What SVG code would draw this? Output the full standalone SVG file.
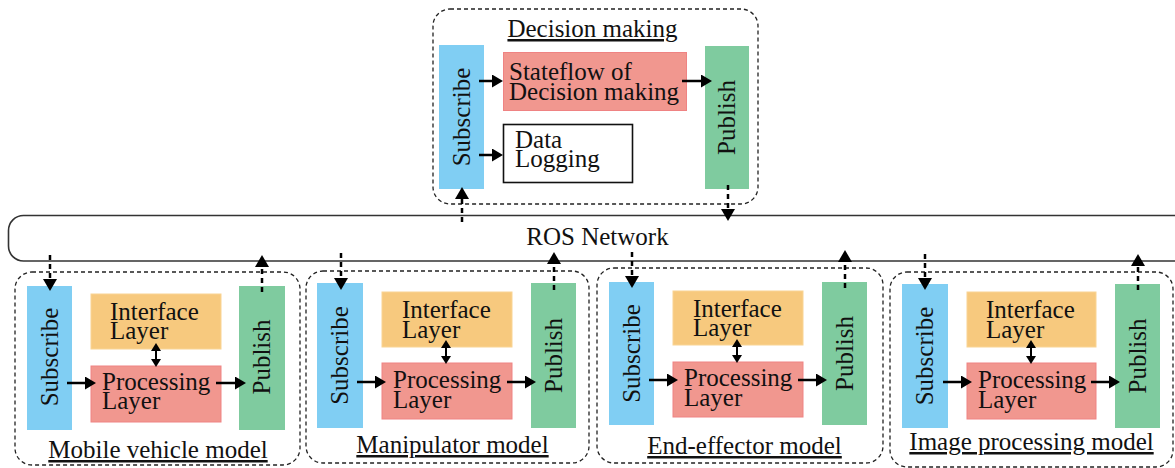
<svg xmlns="http://www.w3.org/2000/svg" width="1175" height="468" viewBox="0 0 1175 468">
  <style>
    text { font-family: "Times New Roman", "Liberation Serif", Tinos, "DejaVu Serif", serif; font-size: 25px; fill: #111; }
    .title { text-anchor: middle; text-decoration: underline; }
    .mid { text-anchor: middle; }
    .frame { fill: none; stroke: #222; stroke-width: 1.3; stroke-dasharray: 4 3; }
    .sub { fill: #80CEF3; }
    .pub { fill: #7FCB9F; }
    .iface { fill: #F7C97E; stroke: #F9D494; stroke-width: 1; }
    .proc { fill: #F1978F; stroke: #EF8383; stroke-width: 1; }
    .plain { fill: #fff; stroke: #111; stroke-width: 1.6; }
    .net { fill: #fff; stroke: #333; stroke-width: 1.6; }
    .flow { fill: none; stroke: #000; stroke-width: 2.5; marker-end: url(#head); }
    .link { fill: none; stroke: #000; stroke-width: 2; marker-start: url(#small); marker-end: url(#small); }
    .msg { fill: none; stroke: #000; stroke-width: 2.5; stroke-dasharray: 5 4; marker-end: url(#dhead); }
  </style>
  <defs>
    <marker id="head" markerUnits="userSpaceOnUse" markerWidth="12" markerHeight="13" refX="2" refY="6.5" orient="auto">
      <path d="M0,0 L11,6.5 L0,13 z" fill="#000"/>
    </marker>
    <marker id="dhead" markerUnits="userSpaceOnUse" markerWidth="13" markerHeight="14" refX="2" refY="7" orient="auto">
      <path d="M0,0 L12,7 L0,14 z" fill="#000"/>
    </marker>
    <marker id="small" markerUnits="userSpaceOnUse" markerWidth="9" markerHeight="10" refX="2" refY="5" orient="auto-start-reverse">
      <path d="M0,0 L8,5 L0,10 z" fill="#000"/>
    </marker>
  </defs>

  <!-- shared network bus -->
  <g id="ros-network">
    <rect class="net" x="8.5" y="215.5" width="1180" height="45.5" rx="15"/>
    <text class="mid" x="597.5" y="245">ROS Network</text>
  </g>

  <!-- decision making node -->
  <g id="decision-making">
    <rect class="frame" x="433" y="9" width="325" height="195" rx="17"/>
    <text class="title" x="592.5" y="37">Decision making</text>
    <rect class="sub" x="439" y="45" width="45" height="144"/>
    <text class="mid" transform="translate(461.5,117) rotate(-90)" y="8">Subscribe</text>
    <rect class="proc" x="503.5" y="52.5" width="183" height="58"/>
    <text x="509" y="80">Stateflow of</text>
    <text x="509" y="100">Decision making</text>
    <rect class="plain" x="503.5" y="124.5" width="129" height="58"/>
    <text x="515" y="148">Data</text>
    <text x="515" y="167">Logging</text>
    <rect class="pub" x="705" y="46" width="44" height="143"/>
    <text class="mid" transform="translate(727,117.5) rotate(-90)" y="8">Publish</text>
  </g>

  <!-- mobile vehicle node -->
  <g id="mobile-vehicle">
    <rect class="frame" x="15" y="272" width="285" height="193" rx="17"/>
    <rect class="sub" x="27" y="286" width="45" height="144"/>
    <text class="mid" transform="translate(49.5,357) rotate(-90)" y="8">Subscribe</text>
    <rect class="iface" x="91" y="294" width="130" height="55"/>
    <text x="110" y="320">Interface</text>
    <text x="110" y="339">Layer</text>
    <rect class="proc" x="91" y="366" width="130" height="56"/>
    <text x="102" y="390">Processing</text>
    <text x="102" y="409">Layer</text>
    <rect class="pub" x="239" y="286" width="46" height="144"/>
    <text class="mid" transform="translate(262,357) rotate(-90)" y="8">Publish</text>
    <text class="title" x="158" y="458">Mobile vehicle model</text>
  </g>

  <!-- manipulator node -->
  <g id="manipulator">
    <rect class="frame" x="306" y="271" width="283" height="192" rx="17"/>
    <rect class="sub" x="317" y="283" width="46" height="145"/>
    <text class="mid" transform="translate(340,355.5) rotate(-90)" y="8">Subscribe</text>
    <rect class="iface" x="382" y="292" width="130" height="55"/>
    <text x="402" y="318">Interface</text>
    <text x="402" y="338">Layer</text>
    <rect class="proc" x="382" y="363" width="130" height="56"/>
    <text x="393" y="388">Processing</text>
    <text x="393" y="408">Layer</text>
    <rect class="pub" x="531" y="283" width="45" height="145"/>
    <text class="mid" transform="translate(553.5,355.5) rotate(-90)" y="8">Publish</text>
    <text class="title" x="452.5" y="453">Manipulator model</text>
  </g>

  <!-- end-effector node -->
  <g id="end-effector">
    <rect class="frame" x="597" y="268" width="286" height="195" rx="17"/>
    <rect class="sub" x="609" y="282" width="45" height="143"/>
    <text class="mid" transform="translate(631.5,353.5) rotate(-90)" y="8">Subscribe</text>
    <rect class="iface" x="673" y="291" width="130" height="54"/>
    <text x="693" y="317">Interface</text>
    <text x="693" y="336">Layer</text>
    <rect class="proc" x="673" y="362" width="130" height="55"/>
    <text x="684" y="386">Processing</text>
    <text x="684" y="406">Layer</text>
    <rect class="pub" x="822" y="282" width="45" height="143"/>
    <text class="mid" transform="translate(844.5,353.5) rotate(-90)" y="8">Publish</text>
    <text class="title" x="744.5" y="454">End-effector model</text>
  </g>

  <!-- image processing node -->
  <g id="image-processing">
    <rect class="frame" x="890" y="272" width="283" height="195" rx="17"/>
    <rect class="sub" x="902" y="284" width="46" height="144"/>
    <text class="mid" transform="translate(925,356) rotate(-90)" y="8">Subscribe</text>
    <rect class="iface" x="967" y="292" width="129" height="55"/>
    <text x="986" y="318">Interface</text>
    <text x="986" y="338">Layer</text>
    <rect class="proc" x="967" y="363" width="129" height="56"/>
    <text x="978" y="388">Processing</text>
    <text x="978" y="408">Layer</text>
    <rect class="pub" x="1115" y="284" width="45" height="144"/>
    <text class="mid" transform="translate(1137.5,356) rotate(-90)" y="8">Publish</text>
    <text class="title" x="1031.5" y="450">Image processing model</text>
  </g>

  <!-- connectors -->
  <g id="connectors">
    <!-- decision making internals -->
    <path class="flow" d="M479,81 H494"/>
    <path class="flow" d="M479,155 H494"/>
    <path class="flow" d="M682,81 H703"/>
    <!-- decision making <-> network -->
    <path class="msg" d="M462,222 V197"/>
    <path class="msg" d="M728,185 V211"/>

    <!-- mobile vehicle -->
    <path class="flow" d="M67,383 H87"/>
    <path class="flow" d="M216,383 H237"/>
    <path class="link" d="M156,349 V361"/>
    <path class="msg" d="M50,255 V281"/>
    <path class="msg" d="M262,292 V265"/>

    <!-- manipulator -->
    <path class="flow" d="M357,382 H377"/>
    <path class="flow" d="M507,382 H527"/>
    <path class="link" d="M446,346 V358"/>
    <path class="msg" d="M341,253 V280"/>
    <path class="msg" d="M554,290 V262"/>

    <!-- end-effector -->
    <path class="flow" d="M649,380 H669"/>
    <path class="flow" d="M798,380 H818"/>
    <path class="link" d="M737,345 V357"/>
    <path class="msg" d="M632,252 V278"/>
    <path class="msg" d="M845,288 V260"/>

    <!-- image processing -->
    <path class="flow" d="M943,382 H963"/>
    <path class="flow" d="M1091,382 H1111"/>
    <path class="link" d="M1031,346 V358"/>
    <path class="msg" d="M925,254 V280"/>
    <path class="msg" d="M1138,290 V264"/>
  </g>
</svg>
